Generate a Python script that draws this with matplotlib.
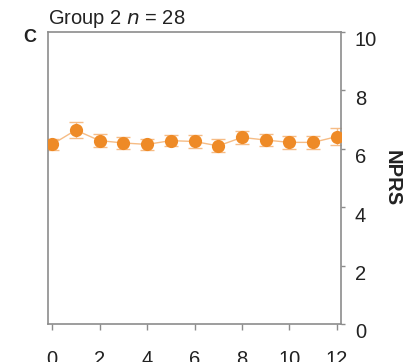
import matplotlib
matplotlib.use("Agg")
import matplotlib.pyplot as plt
from matplotlib.transforms import ScaledTranslation

plt.rcParams['font.family'] = ['Liberation Sans', 'DejaVu Sans']

# NPRS over time for group 2
weeks = [0, 1, 2, 3, 4, 5, 6, 7, 8, 9, 10, 11, 12]
nprs_mean = [6.15, 6.64, 6.28, 6.2, 6.15, 6.28, 6.25, 6.1, 6.39, 6.3, 6.22, 6.22, 6.42]
nprs_err = [0.2, 0.28, 0.22, 0.2, 0.2, 0.2, 0.22, 0.22, 0.22, 0.2, 0.22, 0.22, 0.3]
x_ticks = [0, 2, 4, 6, 8, 10, 12]
y_ticks = [0, 2, 4, 6, 8, 10]

orange = '#EE8A26'
light_orange = '#F6BC85'
gray = '#8C8C8C'
text_color = '#222222'

fig = plt.figure(figsize=(4.12, 3.62), dpi=100)
ax = fig.add_axes([48/412, 1-324/362, (341-48)/412, (324-32)/362])

ax.errorbar(weeks, nprs_mean, yerr=nprs_err, fmt='none', ecolor=light_orange,
            elinewidth=1.0, capsize=5, capthick=1.0, zorder=2)
ax.plot(weeks, nprs_mean, color=light_orange, lw=1.0, zorder=2)
ax.plot(weeks, nprs_mean, 'o', color=orange, markersize=9.5, markeredgewidth=0, zorder=3)

ax.set_xlim(-0.17, 12.17)
ax.set_ylim(0, 10)
ax.set_xticks(x_ticks)
ax.set_yticks(y_ticks)

for s in ax.spines.values():
    s.set_color(gray)
    s.set_linewidth(1.2)

ax.yaxis.tick_right()
ax.tick_params(axis='y', which='both', right=True, left=False, direction='out',
               length=3, width=1, color=gray, labelsize=14.5, pad=7, labelcolor=text_color)
ax.tick_params(axis='x', direction='out', length=4, width=1, color=gray,
               labelsize=14.5, pad=15, labelcolor=text_color)

shift = ScaledTranslation(0, -7/100, fig.dpi_scale_trans)
for lbl in ax.get_yticklabels():
    lbl.set_transform(lbl.get_transform() + shift)

fig.text(392/412, 1-178/362, 'NPRS', rotation=-90, fontsize=14.5, fontweight='bold',
         ha='center', va='center', color=text_color)
fig.text(48/412, 1-19/362, r'Group 2 $\it{n}$ = 28', fontsize=14.5,
         ha='left', va='center', color=text_color)
fig.text(30/412, 1-37/362, 'C', fontsize=13, fontweight='bold',
         ha='center', va='center', color=text_color)

fig.savefig('out.png', dpi=100)
